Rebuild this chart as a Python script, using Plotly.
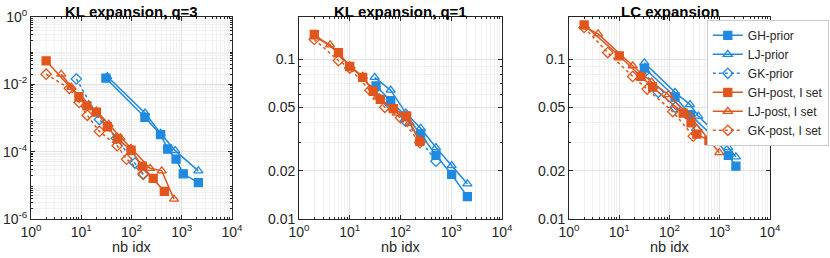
import plotly.graph_objects as go

BLUE = "#1f8ae0"
ORANGE = "#e0561c"

# ---------------- data ----------------
# Panel 1: KL expansion, q=3
p1_gh_prior_x = [31, 185, 380, 525, 770, 1070, 2140]
p1_gh_prior_y = [0.0152, 1.05e-3, 3.2e-4, 1.2e-4, 6.0e-5, 2.2e-5, 1.2e-5]
p1_lj_prior_x = [33, 186, 380, 740, 2140]
p1_lj_prior_y = [0.017, 1.4e-3, 3.5e-4, 1.07e-4, 2.7e-5]
p1_gk_prior_x = [8, 23, 50, 117, 171]
p1_gk_prior_y = [0.0145, 9.0e-4, 2.5e-4, 4.6e-5, 2.1e-5]
p1_gh_post_x = [2, 9, 13, 20, 33, 53, 98, 164, 270, 450]
p1_gh_post_y = [0.05, 4.3e-3, 2.3e-3, 1.5e-3, 5.5e-4, 2.4e-4, 1.1e-4, 3.7e-5, 1.6e-5, 6.6e-6]
p1_lj_post_x = [4, 6.4, 10, 20, 35, 60, 98, 235, 400, 700]
p1_lj_post_y = [0.02, 8.2e-3, 3.6e-3, 1.6e-3, 6.5e-4, 2.6e-4, 1.26e-4, 3.2e-5, 2.7e-5, 3.9e-6]
p1_gk_post_x = [2, 5.8, 9.1, 13.2, 23, 52, 80, 171]
p1_gk_post_y = [0.02, 7.6e-3, 2.9e-3, 1.2e-3, 4.0e-4, 1.5e-4, 6.0e-5, 2.2e-5]

# Panel 2: KL expansion, q=1
p2_gh_prior_x = [33, 64, 128, 250, 500, 1020, 2080]
p2_gh_prior_y = [0.068, 0.055, 0.044, 0.034, 0.025, 0.019, 0.0138]
p2_lj_prior_x = [31, 64, 128, 250, 500, 1020, 2080]
p2_lj_prior_y = [0.077, 0.064, 0.046, 0.037, 0.028, 0.0216, 0.0166]
p2_gk_prior_x = [31, 62, 125, 250, 500]
p2_gk_prior_y = [0.065, 0.052, 0.041, 0.031, 0.023]
p2_gh_post_x = [2, 6, 10, 18, 29, 40, 72, 132, 240]
p2_gh_post_y = [0.143, 0.110, 0.090, 0.077, 0.063, 0.056, 0.049, 0.044, 0.0306]
p2_lj_post_x = [2, 4.1, 10, 18, 35, 84, 150, 240]
p2_lj_post_y = [0.138, 0.123, 0.091, 0.078, 0.058, 0.046, 0.040, 0.031]
p2_gk_post_x = [2, 6, 10, 25, 49, 100, 240]
p2_gk_post_y = [0.133, 0.098, 0.088, 0.064, 0.050, 0.043, 0.030]

# Panel 3: LC expansion
p3_gh_prior_x = [31.6, 129, 260, 725, 1480, 2100]
p3_gh_prior_y = [0.088, 0.058, 0.045, 0.033, 0.025, 0.0214]
p3_lj_prior_x = [31.6, 129, 256, 375, 725, 1000, 1480, 2100]
p3_lj_prior_y = [0.095, 0.062, 0.052, 0.044, 0.036, 0.031, 0.028, 0.0245]
p3_gk_prior_x = [32, 60, 130, 350]
p3_gk_prior_y = [0.083, 0.062, 0.050, 0.036]
p3_gh_post_x = [2, 10, 27, 46, 187, 268, 350, 610]
p3_gh_post_y = [0.164, 0.105, 0.078, 0.067, 0.046, 0.040, 0.034, 0.031]
p3_lj_post_x = [2, 3.8, 18.5, 44, 95, 256, 980]
p3_lj_post_y = [0.160, 0.144, 0.091, 0.072, 0.060, 0.044, 0.026]
p3_gk_post_x = [2, 5.9, 18.5, 36, 116, 297]
p3_gk_post_y = [0.158, 0.110, 0.078, 0.065, 0.047, 0.033]

series_names = ["GH-prior", "LJ-prior", "GK-prior", "GH-post, I set", "LJ-post, I set", "GK-post, I set"]
titles = ["KL expansion, q=3", "KL expansion, q=1", "LC expansion"]
x_tick_vals = [1, 10, 100, 1000, 10000]
x_tick_text = ["10<sup>0</sup>", "10<sup>1</sup>", "10<sup>2</sup>", "10<sup>3</sup>", "10<sup>4</sup>"]
y1_tick_vals = [1e-6, 1e-4, 1e-2, 1]
y1_tick_text = ["10<sup>-6</sup>", "10<sup>-4</sup>", "10<sup>-2</sup>", "10<sup>0</sup>"]
y23_tick_vals = [0.01, 0.02, 0.05, 0.1]
y23_tick_text = ["0.01", "0.02", "0.05", "0.1"]

panels = [
    [(p1_gh_prior_x, p1_gh_prior_y), (p1_lj_prior_x, p1_lj_prior_y), (p1_gk_prior_x, p1_gk_prior_y),
     (p1_gh_post_x, p1_gh_post_y), (p1_lj_post_x, p1_lj_post_y), (p1_gk_post_x, p1_gk_post_y)],
    [(p2_gh_prior_x, p2_gh_prior_y), (p2_lj_prior_x, p2_lj_prior_y), (p2_gk_prior_x, p2_gk_prior_y),
     (p2_gh_post_x, p2_gh_post_y), (p2_lj_post_x, p2_lj_post_y), (p2_gk_post_x, p2_gk_post_y)],
    [(p3_gh_prior_x, p3_gh_prior_y), (p3_lj_prior_x, p3_lj_prior_y), (p3_gk_prior_x, p3_gk_prior_y),
     (p3_gh_post_x, p3_gh_post_y), (p3_lj_post_x, p3_lj_post_y), (p3_gk_post_x, p3_gk_post_y)],
]

styles = [
    dict(color=BLUE, symbol="square", dash="solid"),
    dict(color=BLUE, symbol="triangle-up-open", dash="solid"),
    dict(color=BLUE, symbol="diamond-open", dash="dot"),
    dict(color=ORANGE, symbol="square", dash="solid"),
    dict(color=ORANGE, symbol="triangle-up-open", dash="solid"),
    dict(color=ORANGE, symbol="diamond-open", dash="dot"),
]

W, H = 830, 258
x_px = [(31, 232), (299, 502), (569, 770)]
y_px = (17, 219)

fig = go.Figure()
FONT = "Liberation Sans, Arial, sans-serif"

for p, data in enumerate(panels):
    ax = "" if p == 0 else str(p + 1)
    for s, (xs, ys) in enumerate(data):
        st = styles[s]
        fig.add_trace(go.Scatter(
            x=xs, y=ys, mode="lines+markers", name=series_names[s],
            xaxis="x" + ax, yaxis="y" + ax,
            showlegend=(p == 2),
            line=dict(color=st["color"], width=1.5, dash=st["dash"]),
            marker=dict(symbol=st["symbol"], size=8, color=st["color"],
                        line=dict(color=st["color"], width=1.3)),
        ))

def minor_vals(lo_exp, hi_exp):
    v = []
    for e in range(lo_exp, hi_exp):
        for m in range(2, 10):
            v.append(m * 10 ** e)
    return v

axis_common = dict(
    type="log", showline=True, linecolor="#262626", linewidth=0.8, mirror="allticks",
    ticks="inside", ticklen=4, tickcolor="#262626", automargin=False,
    showgrid=True, gridcolor="#e3e3e3", gridwidth=0.8, zeroline=False,
    tickfont=dict(family=FONT, size=14, color="#262626"),
)

layout = dict(
    width=W, height=H, margin=dict(l=0, r=0, t=0, b=0, pad=0, autoexpand=False),
    paper_bgcolor="white", plot_bgcolor="white",
    font=dict(family=FONT, size=12, color="#262626"),
    legend=dict(x=1 - 1 / W, y=1 - 20 / H, xanchor="right", yanchor="top",
                bgcolor="white", bordercolor="#bdbdbd", borderwidth=0.8,
                font=dict(family=FONT, size=12, color="#262626"),
                itemwidth=30, tracegroupgap=0),
)

annotations = []
for p in range(3):
    ax = "" if p == 0 else str(p + 1)
    x0, x1 = x_px[p]
    xd = [x0 / W, x1 / W]
    yd = [1 - y_px[1] / H, 1 - y_px[0] / H]
    layout["xaxis" + ax] = dict(
        axis_common, domain=xd, anchor="y" + ax,
        range=[0, 4], tickmode="array", tickvals=x_tick_vals, ticktext=x_tick_text,
        minor=dict(tickmode="array", tickvals=minor_vals(0, 4), showgrid=True,
                   gridcolor="#f1f1f1", ticks="inside", ticklen=2, tickcolor="#262626"),
    )
    if p == 0:
        yr = [-6, 0]
        tv, tt = y1_tick_vals, y1_tick_text
        mv = minor_vals(-6, 0)
    else:
        yr = [-2, -0.736]
        tv, tt = y23_tick_vals, y23_tick_text
        mv = [0.03, 0.04, 0.06, 0.07, 0.08, 0.09, 0.2]
    layout["yaxis" + ax] = dict(
        axis_common, domain=yd, anchor="x" + ax,
        range=yr, tickmode="array", tickvals=tv, ticktext=tt,
        minor=dict(tickmode="array", tickvals=mv, showgrid=True,
                   gridcolor="#f1f1f1", ticks="inside", ticklen=2, tickcolor="#262626"),
    )
    cx = (x0 + x1) / 2 / W
    annotations.append(dict(text="<b>" + titles[p] + "</b>", x=cx, y=1 - 1 / H,
                            xref="paper", yref="paper", xanchor="center", yanchor="top",
                            showarrow=False, font=dict(family=FONT, size=15, color="black")))
    annotations.append(dict(text="nb idx", x=cx, y=1 / H, xref="paper", yref="paper",
                            xanchor="center", yanchor="bottom", showarrow=False,
                            font=dict(family=FONT, size=14.5, color="#262626")))

layout["annotations"] = annotations
fig.update_layout(**layout)
fig.write_html("out.html", config={"displayModeBar": False},
               post_script="document.body.style.margin='0';document.body.style.overflow='hidden';")
